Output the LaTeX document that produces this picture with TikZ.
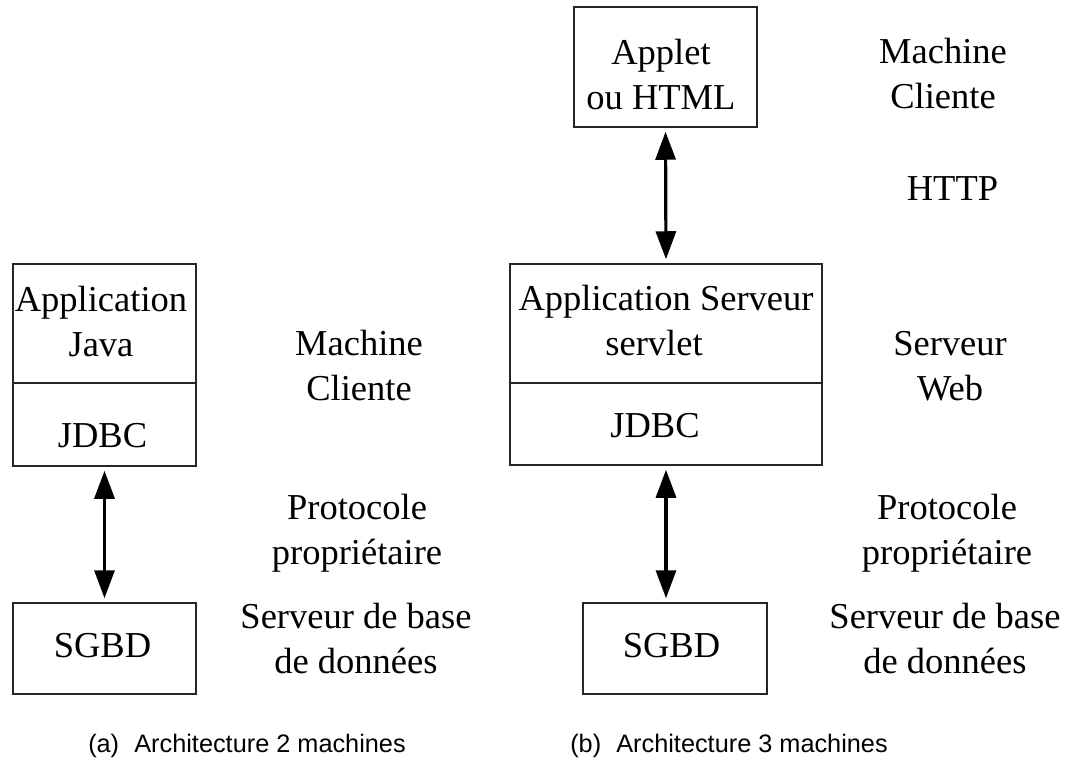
\documentclass[tikz,border=0pt]{standalone}
\usepackage{fontspec}
\setmainfont{Liberation Serif}
\newfontfamily\capfont{Liberation Sans}
\usetikzlibrary{arrows.meta}
\begin{document}
\begin{tikzpicture}[x=1pt,y=-1pt,
  lbl/.style={font=\fontsize{36.5}{45}\selectfont, align=center, inner sep=0pt, anchor=base},
  captxt/.style={font=\capfont\fontsize{25.3}{30}\selectfont, inner sep=0pt, anchor=base},
  boxn/.style={draw=black!85, line width=1.5pt, inner sep=0pt, rectangle},
  divline/.style={draw=black!85, line width=1.5pt},
  arr/.style={line width=3.2pt, {Triangle[length=28pt,width=20pt]}-{Triangle[length=28pt,width=20pt]}, shorten <=4pt, shorten >=4pt}]
\useasboundingbox (0,0) rectangle (1068,766);

% ---------- (a) ----------
\node[boxn, minimum width=183pt, minimum height=202pt] (app1) at (104.5,365) {};
\coordinate (d1) at (0,383);
\draw[divline] (app1.west |- d1) -- (app1.east |- d1);
\node[lbl] (app1t) at (101,356) {Application\\Java};
\node[lbl] (jdbc1) at (102.5,447) {JDBC};
\node[boxn, minimum width=183pt, minimum height=91pt] (sgbd1) at (104.5,648.5) {};
\node[lbl] (sgbd1t) at (102.5,657) {SGBD};
\draw[arr] (app1.south) -- (sgbd1.north);

\node[lbl] (mc1) at (359,400) {Machine\\Cliente};
\node[lbl] (pp1) at (357,564) {Protocole\\propriétaire};
\node[lbl] (sb1) at (356,673) {Serveur de base\\de données};

% ---------- (b) ----------
\node[boxn, minimum width=183pt, minimum height=120pt] (applet) at (665.5,67) {};
\node[lbl] (applett) at (661,109) {Applet\\ou HTML};
\node[boxn, minimum width=312pt, minimum height=201pt] (app2) at (666,364.5) {};
\coordinate (d2) at (0,383);
\draw[divline] (app2.west |- d2) -- (app2.east |- d2);
\node[lbl] (app2t) at (666,355) {Application Serveur\\servlet\hspace*{24pt}};
\node[lbl] (jdbc2) at (655,437) {JDBC};
\node[boxn, minimum width=184pt, minimum height=91pt] (sgbd2) at (675,648.5) {};
\node[lbl] (sgbd2t) at (671.5,657) {SGBD};
\draw[arr] (applet.south) -- (app2.north);
\draw[arr] (app2.south) -- (app2.south |- sgbd2.north);

\node[lbl] (mc2) at (943,108) {Machine\\Cliente};
\node[lbl] (http) at (952.5,200) {HTTP};
\node[lbl] (sw) at (950,400) {Serveur\\Web};
\node[lbl] (pp2) at (947,564) {Protocole\\propriétaire};
\node[lbl] (sb2) at (945,673) {Serveur de base\\de données};

% ---------- captions ----------
\node[captxt] (capa) at (247,752) {(a)\hspace{0.6em}Architecture 2 machines};
\node[captxt] (capb) at (729,752) {(b)\hspace{0.6em}Architecture 3 machines};
\end{tikzpicture}
\end{document}
